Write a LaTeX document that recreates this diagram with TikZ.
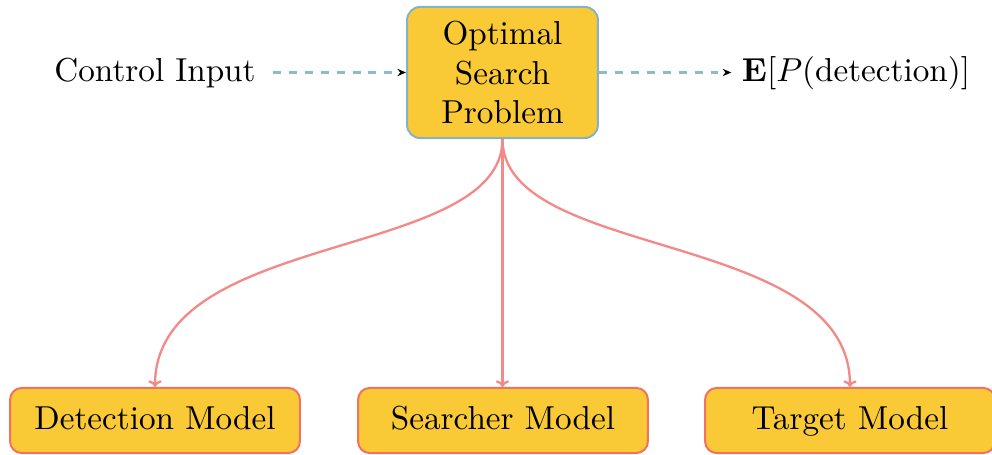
\documentclass[tikz,border=0pt]{standalone}
\usepackage{amsmath}
\usetikzlibrary{arrows.meta}
\definecolor{boxfill}{HTML}{F9C936}
\definecolor{topedge}{HTML}{86B3C3}
\definecolor{modeledge}{HTML}{F2715F}
\definecolor{linkred}{HTML}{F28A8A}
\definecolor{flowblue}{HTML}{8DBACD}
\tikzset{
  probbox/.style={draw=topedge, line width=0.6pt, fill=boxfill, rounded corners=4pt,
    minimum width=57.5pt, minimum height=39.5pt, align=center, inner sep=0pt},
  modelbox/.style={draw=modeledge, line width=0.6pt, fill=boxfill, rounded corners=3.5pt,
    minimum width=87.3pt, minimum height=19.6pt, inner sep=0pt,
    text height=1.5ex, text depth=0.25ex},
  flow/.style={flowblue, line width=0.7pt, dash pattern=on 2.4pt off 2.4pt,
    -{Stealth[color=black, length=2.6pt, width=2.2pt]}},
  link/.style={linkred, line width=0.7pt, -{To[length=2pt, width=4pt]}},
  plain/.style={inner sep=3pt}
}
\begin{document}
\begin{tikzpicture}[x=0.3012pt, y=-0.3012pt]
  \useasboundingbox (0,0) rectangle (992,455);
  % central problem box
  \node[probbox] (osp) at (502.5,72.5) {Optimal\\Search\\Problem};
  % input and output labels
  \node[plain, anchor=base] (ctl) at (155,82) {Control Input};
  \node[plain, anchor=base] (out) at (856,82) {$\mathbf{E}[P(\text{detection})]$};
  % model boxes
  \node[modelbox] (det) at (155,420.5) {Detection Model};
  \node[modelbox] (sea) at (503,420.5) {Searcher Model};
  \node[modelbox] (tar) at (850,420.5) {Target Model};
  % dashed flow through the problem box
  \draw[flow, shorten <=2pt] (ctl.east |- osp.west) -- (osp.west);
  \draw[flow] (osp.east) -- (out.west |- osp.east);
  % links to the models
  \draw[link] (osp.south) .. controls +(0,122) and +(0,-158) .. (det.north);
  \draw[link] (osp.south) -- (osp.south |- sea.north);
  \draw[link] (osp.south) .. controls +(0,122) and +(0,-158) .. (tar.north);
\end{tikzpicture}
\end{document}
